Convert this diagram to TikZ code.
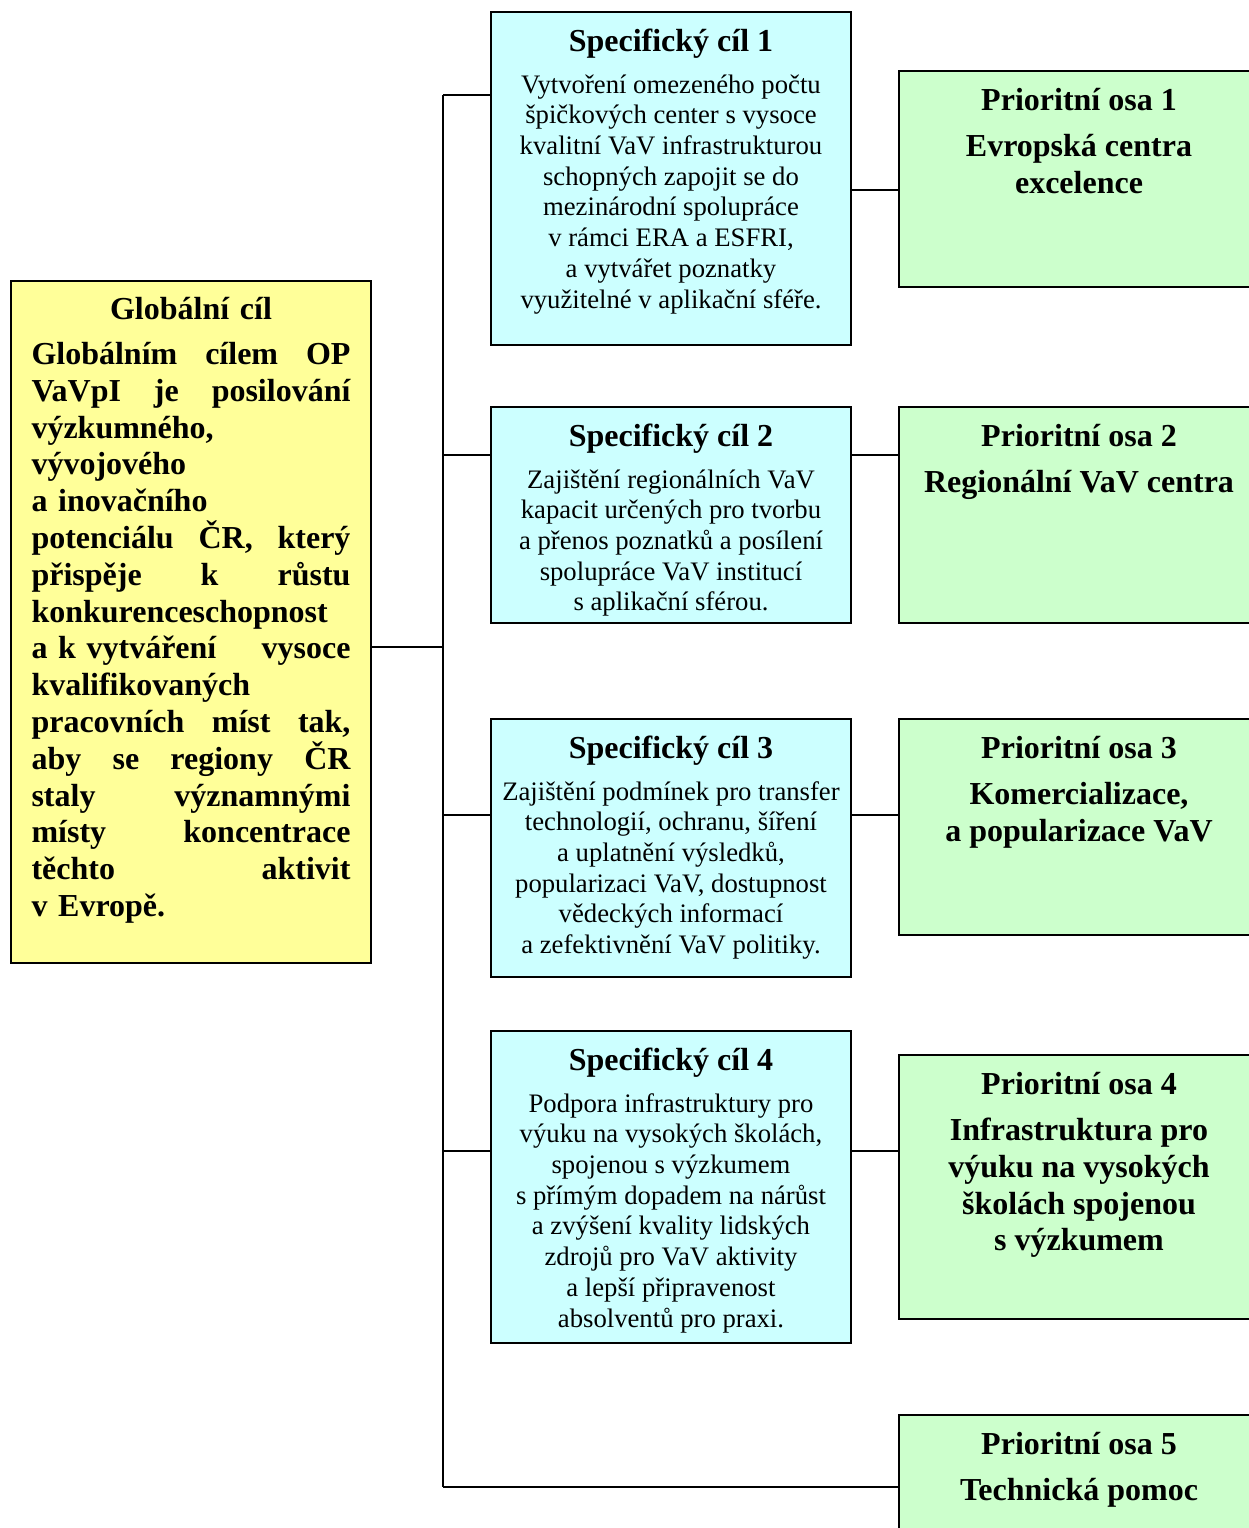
\documentclass[tikz,border=0pt]{standalone}
\usepackage{fontspec}
\setmainfont{Liberation Serif}
\usepackage{xcolor}
\usetikzlibrary{positioning}

\definecolor{goalyellow}{HTML}{FFFF99}
\definecolor{aimcyan}{HTML}{CCFFFF}
\definecolor{axisgreen}{HTML}{CCFFCC}

\tikzset{
  box/.style={draw, rectangle, line width=1.5pt, minimum width=360pt, inner sep=0pt},
  goal/.style={box, fill=goalyellow},
  aim/.style={box, fill=aimcyan},
  axis/.style={box, fill=axisgreen},
  goaltext/.style={align=left, text width=319pt, inner sep=0pt, font=\fontsize{32}{36.8}\selectfont\bfseries},
  aimtext/.style={align=center, inner sep=0pt, font=\fontsize{26.7}{30.7}\selectfont},
  axistext/.style={align=center, inner sep=0pt, font=\fontsize{32}{36.8}\selectfont\bfseries},
  link/.style={line width=1.5pt},
}
\newcommand{\aimhead}[1]{{\fontsize{32}{36.8}\selectfont\bfseries #1}}

\begin{document}
\begin{tikzpicture}[x=1pt, y=-1pt]
\useasboundingbox (0,0) rectangle (1248,1528);

% global goal
\node (glob) [goal, minimum height=682pt] at (191,622) {};
\node (globtxt) [goaltext, below=17pt of glob.north] {\makebox[\linewidth][c]{Globální cíl}\\[8pt]
  Globálním\hfill cílem\hfill OP\\
  VaVpI\hfill je\hfill posilování\\
  výzkumného,\\
  vývojového\\
  a inovačního\\
  potenciálu\hfill ČR,\hfill který\\
  přispěje\hfill k\hfill růstu\\
  konkurenceschopnost\\
  a k vytváření\hfill vysoce\\
  kvalifikovaných\\
  pracovních\hfill míst\hfill tak,\\
  aby\hfill se\hfill regiony\hfill ČR\\
  staly\hfill významnými\\
  místy\hfill koncentrace\\
  těchto\hfill aktivit\\
  v Evropě.};

% specific aims
\node (s1) [aim, minimum height=333pt] at (671,178.5) {};
\node (s1txt) [aimtext, below=18pt of s1.north] {\aimhead{Specifický cíl 1}\\[10.5pt]
  Vytvoření omezeného počtu\\ špičkových center s vysoce\\ kvalitní VaV infrastrukturou\\
  schopných zapojit se do\\ mezinárodní spolupráce\\ v rámci ERA a ESFRI,\\
  a vytvářet poznatky\\ využitelné v aplikační sféře.};
\node (s2) [aim, minimum height=216pt] at (671,515) {};
\node (s2txt) [aimtext, below=18pt of s2.north] {\aimhead{Specifický cíl 2}\\[10.5pt]
  Zajištění regionálních VaV\\ kapacit určených pro tvorbu\\ a přenos poznatků a posílení\\
  spolupráce VaV institucí\\ s aplikační sférou.};
\node (s3) [aim, minimum height=258pt] at (671,848) {};
\node (s3txt) [aimtext, below=18pt of s3.north] {\aimhead{Specifický cíl 3}\\[10.5pt]
  Zajištění podmínek pro transfer\\ technologií, ochranu, šíření\\ a uplatnění výsledků,\\
  popularizaci VaV, dostupnost\\ vědeckých informací\\ a zefektivnění VaV politiky.};
\node (s4) [aim, minimum height=312pt] at (671,1187) {};
\node (s4txt) [aimtext, below=18pt of s4.north] {\aimhead{Specifický cíl 4}\\[10.5pt]
  Podpora infrastruktury pro\\ výuku na vysokých školách,\\ spojenou s výzkumem\\
  s přímým dopadem na nárůst\\ a zvýšení kvality lidských\\ zdrojů pro VaV aktivity\\
  a lepší připravenost\\ absolventů pro praxi.};

% priority axes
\node (p1) [axis, minimum height=216pt] at (1079,179) {};
\node (p1txt) [axistext, below=18pt of p1.north] {Prioritní osa 1\\[9pt] Evropská centra\\ excelence};
\node (p2) [axis, minimum height=216pt] at (1079,515) {};
\node (p2txt) [axistext, below=18pt of p2.north] {Prioritní osa 2\\[9pt] Regionální VaV centra};
\node (p3) [axis, minimum height=216pt] at (1079,827) {};
\node (p3txt) [axistext, below=18pt of p3.north] {Prioritní osa 3\\[9pt] Komercializace,\\ a popularizace VaV};
\node (p4) [axis, minimum height=264pt] at (1079,1187) {};
\node (p4txt) [axistext, below=18pt of p4.north] {Prioritní osa 4\\[9pt] Infrastruktura pro\\ výuku na vysokých\\ školách spojenou\\ s výzkumem};
\node (p5) [axis, minimum height=216pt] at (1079,1523) {};
\node (p5txt) [axistext, below=18pt of p5.north] {Prioritní osa 5\\[9pt] Technická pomoc};

% connectors
\coordinate (trunktop) at (443,95);
\coordinate (trunkbot) at (443,1487);
\coordinate (j0) at (443,647);
\draw[link] (trunktop) -- (trunkbot);
\draw[link] (glob.east |- j0) -- (j0);
\foreach \n/\y in {1/95, 2/455, 3/815, 4/1151} {
  \coordinate (j\n) at (443,\y);
  \draw[link] (j\n) -- (s\n.west |- j\n);
}
\foreach \n/\y in {1/190, 2/455, 3/815, 4/1151} {
  \coordinate (k\n) at (875,\y);
  \draw[link] (s\n.east |- k\n) -- (p\n.west |- k\n);
}
\draw[link] (trunkbot) -- (p5.west |- trunkbot);
\end{tikzpicture}
\end{document}
